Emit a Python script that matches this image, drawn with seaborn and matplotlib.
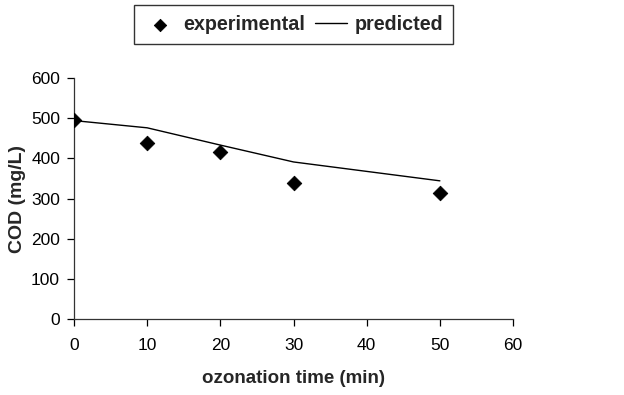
import numpy as np
import pandas as pd
import matplotlib
matplotlib.use("Agg")
import matplotlib.pyplot as plt
import seaborn as sns

# data
time_min = [0, 10, 20, 30, 50]
cod_experimental = [495, 437, 415, 338, 313]
cod_predicted = [494, 476, 433, 391, 344]

df_exp = pd.DataFrame({'time': time_min, 'cod': cod_experimental})
df_pred = pd.DataFrame({'time': time_min, 'cod': cod_predicted})

sns.set_style('ticks')
plt.rcParams['font.family'] = ['Liberation Sans', 'DejaVu Sans']

fig = plt.figure(figsize=(6.24, 3.95), dpi=100)
ax = fig.add_axes([0.1186, 0.1924, 0.7036, 0.6101])

sns.lineplot(data=df_pred, x='time', y='cod', color='black', linewidth=1.0,
             label='predicted', ax=ax, zorder=2)
sns.scatterplot(data=df_exp, x='time', y='cod', marker='D', s=55, color='black',
                edgecolor='black', label='experimental', ax=ax, zorder=3)

ax.set_xlim(0, 60)
ax.set_ylim(0, 600)
ax.set_xticks(np.arange(0, 61, 10))
ax.set_yticks(np.arange(0, 601, 100))
ax.tick_params(axis='both', direction='out', length=5, width=0.9, labelsize=12.5,
               colors='black')
ax.tick_params(axis='x', pad=9)
ax.tick_params(axis='y', pad=5)
for s in ['left', 'bottom']:
    ax.spines[s].set_linewidth(0.9)
    ax.spines[s].set_color('#333333')
sns.despine(ax=ax)

ax.set_xlabel('ozonation time (min)', fontsize=13.5, fontweight='bold', labelpad=12)
ax.set_ylabel('COD (mg/L)', fontsize=14, fontweight='bold', labelpad=4)

handles, labels = ax.get_legend_handles_labels()
order = [labels.index('experimental'), labels.index('predicted')]
leg = fig.legend([handles[i] for i in order], [labels[i] for i in order],
                 loc='center', bbox_to_anchor=(0.471, 0.938), ncol=2,
                 frameon=True, fancybox=False, edgecolor='black',
                 prop={'size': 14.2, 'weight': 'bold'}, handlelength=1.6,
                 columnspacing=0.5, handletextpad=0.4, borderpad=0.5,
                 markerscale=0.85)
leg.get_frame().set_linewidth(1.0)
ax.get_legend().remove()

fig.savefig('out.png', dpi=100)
